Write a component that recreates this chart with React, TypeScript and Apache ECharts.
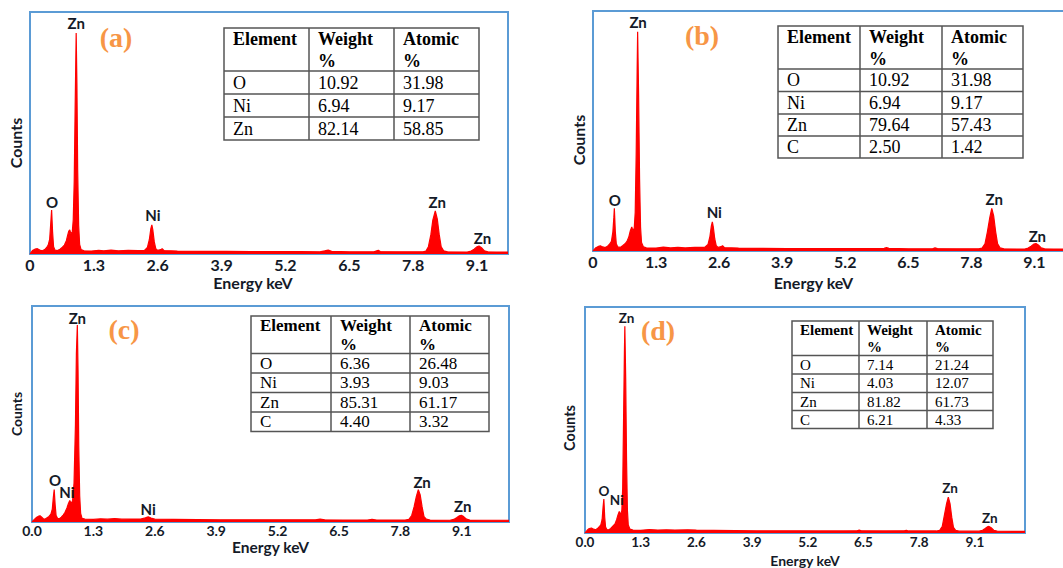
import React, { useEffect, useRef } from "react";
import * as echarts from "echarts";

// ---------- DATA ----------
const TICKS_AB = ["0", "1.3", "2.6", "3.9", "5.2", "6.5", "7.8", "9.1"];
const TICKS_CD = ["0.0", "1.3", "2.6", "3.9", "5.2", "6.5", "7.8", "9.1"];

const HEADERS = ["Element", "Weight\n%", "Atomic\n%"];

const tableA = [
  ["O", "10.92", "31.98"],
  ["Ni", "6.94", "9.17"],
  ["Zn", "82.14", "58.85"],
];
const tableB = [
  ["O", "10.92", "31.98"],
  ["Ni", "6.94", "9.17"],
  ["Zn", "79.64", "57.43"],
  ["C", "2.50", "1.42"],
];
const tableC = [
  ["O", "6.36", "26.48"],
  ["Ni", "3.93", "9.03"],
  ["Zn", "85.31", "61.17"],
  ["C", "4.40", "3.32"],
];
const tableD = [
  ["O", "7.14", "21.24"],
  ["Ni", "4.03", "12.07"],
  ["Zn", "81.82", "61.73"],
  ["C", "6.21", "4.33"],
];

// spectra: [energy keV, counts (relative)]
const specA = [
  [0, 0], [0.05, 1.4], [0.1, 2], [0.15, 2.2], [0.2, 1.6], [0.25, 1.3], [0.3, 1.8], [0.34, 2.7], [0.37, 3.7],
  [0.4, 6], [0.42, 12], [0.44, 18.2], [0.46, 9], [0.48, 3], [0.51, 1.6], [0.56, 1.4], [0.61, 2], [0.66, 2.8],
  [0.7, 3.7], [0.74, 5.5], [0.77, 8], [0.79, 9.5], [0.81, 10], [0.83, 8.5], [0.86, 9], [0.88, 14], [0.9, 30],
  [0.92, 62], [0.94, 91.3], [0.955, 70], [0.97, 35], [0.99, 12], [1.01, 4], [1.04, 1.8], [1.1, 1.3], [1.25, 1.2],
  [1.4, 1.5], [1.5, 1.3], [1.65, 1.6], [1.8, 1.3], [2.0, 1.5], [2.2, 1.4], [2.33, 1.5], [2.39, 2.7], [2.43, 6],
  [2.46, 10.5], [2.48, 12], [2.5, 10], [2.53, 5], [2.56, 2.2], [2.6, 1.5], [2.66, 1.8], [2.69, 2.2], [2.73, 1.4],
  [3.0, 1.2], [3.5, 1.1], [4.0, 1.1], [4.5, 1], [5.0, 1], [5.5, 1], [5.9, 0.9], [6.0, 1.3], [6.07, 1.6],
  [6.14, 1.1], [6.5, 0.9], [7.0, 0.9], [7.06, 1.3], [7.09, 1.5], [7.13, 1], [7.5, 0.9], [8.0, 0.9], [8.06, 1.2],
  [8.11, 3], [8.16, 8], [8.2, 14], [8.25, 17.8], [8.29, 14.5], [8.33, 8], [8.37, 3], [8.42, 1.3], [8.5, 0.9],
  [8.9, 0.8], [8.98, 1.2], [9.04, 2], [9.1, 3], [9.14, 3.3], [9.19, 2.6], [9.25, 1.3], [9.32, 0.9], [9.5, 0.8],
  [9.73, 0.8],
];
const specB = [
  [0, 0], [0.05, 1.2], [0.1, 1.8], [0.15, 2.2], [0.2, 1.7], [0.25, 1.4], [0.3, 2], [0.34, 2.8], [0.38, 4],
  [0.41, 8], [0.43, 14], [0.44, 17.8], [0.46, 8], [0.48, 3], [0.51, 1.7], [0.56, 1.5], [0.61, 2.2], [0.66, 3],
  [0.7, 4], [0.74, 6], [0.77, 8.5], [0.8, 10], [0.82, 8.5], [0.85, 9.5], [0.87, 16], [0.89, 40], [0.91, 75],
  [0.92, 91.4], [0.94, 65], [0.96, 30], [0.98, 10], [1.0, 3.5], [1.04, 1.7], [1.1, 1.3], [1.3, 1.2], [1.45, 1.6],
  [1.6, 1.3], [1.75, 1.5], [1.9, 1.3], [2.1, 1.5], [2.3, 1.5], [2.37, 2.7], [2.41, 6], [2.44, 10.5], [2.46, 12.1],
  [2.48, 10], [2.51, 5], [2.54, 2.2], [2.58, 1.5], [2.64, 1.8], [2.67, 2.2], [2.71, 1.4], [3.0, 1.2], [3.5, 1.1],
  [4.0, 1], [4.5, 1], [5.0, 1], [5.5, 1], [6.0, 1.1], [6.05, 1.4], [6.1, 1.1], [6.5, 0.9], [7.0, 0.9],
  [7.05, 1.3], [7.1, 1], [7.5, 0.9], [7.95, 0.9], [8.02, 1.2], [8.08, 3], [8.13, 8], [8.18, 14], [8.22, 17.8],
  [8.26, 14.5], [8.3, 8], [8.34, 3], [8.39, 1.3], [8.47, 0.9], [8.9, 0.8], [8.97, 1.2], [9.03, 2], [9.09, 2.9],
  [9.13, 3.1], [9.18, 2.5], [9.24, 1.3], [9.31, 0.9], [9.5, 0.8], [9.75, 0.8],
];
const specC = [
  [0, 0], [0.05, 1.2], [0.1, 2.2], [0.14, 2.7], [0.17, 2.9], [0.2, 2.3], [0.24, 1.5], [0.28, 1.4], [0.32, 2],
  [0.36, 2.6], [0.4, 3.6], [0.43, 6], [0.45, 11], [0.47, 15], [0.49, 8], [0.51, 3], [0.54, 1.7], [0.58, 1.5],
  [0.62, 2.2], [0.66, 3.2], [0.7, 4.5], [0.74, 6.5], [0.77, 8.5], [0.8, 10], [0.83, 8.5], [0.86, 10], [0.89, 18],
  [0.92, 45], [0.94, 78], [0.96, 91.2], [0.975, 70], [0.99, 35], [1.01, 12], [1.03, 4], [1.06, 1.7], [1.12, 1.3],
  [1.3, 1.2], [1.45, 1.5], [1.6, 1.3], [1.75, 1.6], [1.9, 1.3], [2.1, 1.4], [2.3, 1.4], [2.4, 1.9], [2.46, 2.4],
  [2.52, 1.8], [2.6, 1.3], [3.0, 1.2], [3.5, 1.1], [4.0, 1], [4.5, 1], [5.0, 1], [5.5, 1], [6.0, 1],
  [6.1, 1.3], [6.2, 1], [6.6, 0.9], [7.1, 0.9], [7.2, 1.2], [7.3, 0.9], [7.9, 0.9], [7.98, 1.2], [8.04, 3],
  [8.09, 7], [8.14, 12], [8.18, 15], [8.22, 12.5], [8.26, 7], [8.3, 2.5], [8.35, 1.3], [8.43, 0.9], [8.85, 0.8],
  [8.93, 1.2], [8.99, 2], [9.05, 2.9], [9.09, 3.1], [9.14, 2.5], [9.2, 1.3], [9.27, 0.9], [9.6, 0.8], [10.1, 0.8],
];
const specD = [
  [0, 0], [0.05, 1.2], [0.1, 2], [0.15, 2.2], [0.2, 1.7], [0.25, 1.4], [0.3, 2.1], [0.34, 2.9], [0.37, 3.6],
  [0.4, 6], [0.42, 11], [0.44, 15], [0.46, 7], [0.48, 2.6], [0.51, 1.5], [0.56, 1.4], [0.6, 2], [0.65, 3],
  [0.7, 4], [0.74, 6], [0.77, 8], [0.8, 9.5], [0.83, 8], [0.86, 10], [0.88, 20], [0.9, 50], [0.92, 80],
  [0.93, 91.5], [0.95, 68], [0.97, 32], [0.99, 10], [1.01, 3.5], [1.05, 1.7], [1.12, 1.3], [1.3, 1.2], [1.5, 1.5],
  [1.7, 1.3], [1.9, 1.4], [2.1, 1.3], [2.4, 1.4], [2.6, 1.3], [3.0, 1.2], [3.5, 1.1], [4.0, 1], [4.5, 1],
  [5.0, 1], [5.5, 0.9], [6.0, 0.9], [6.35, 1], [6.4, 1.3], [6.45, 1], [7.0, 0.9], [7.45, 1], [7.5, 1.2],
  [7.55, 0.9], [8.2, 0.9], [8.28, 1.2], [8.34, 3], [8.39, 8], [8.44, 13], [8.48, 15.9], [8.52, 13], [8.56, 7],
  [8.6, 2.5], [8.65, 1.2], [8.73, 0.8], [9.2, 0.8], [9.28, 1.2], [9.34, 2], [9.39, 2.7], [9.43, 2.9], [9.48, 2.3],
  [9.54, 1.2], [9.62, 0.8], [10.0, 0.7], [10.27, 0.7],
];

// peak labels: [energy, counts, element]
const peaksA = [[0.94, 95.5, "Zn"], [0.45, 21.5, "O"], [2.5, 16.1, "Ni"], [8.29, 21.5, "Zn"], [9.21, 6.6, "Zn"]];
const peaksB = [[0.93, 95.3, "Zn"], [0.45, 21.3, "O"], [2.5, 16.4, "Ni"], [8.27, 21.7, "Zn"], [9.16, 6.4, "Zn"]];
const peaksC = [[0.96, 94.3, "Zn"], [0.49, 19.4, "O"], [0.74, 14, "Ni"], [2.46, 6, "Ni"], [8.26, 18.7, "Zn"], [9.12, 7.4, "Zn"]];
const peaksD = [[0.97, 95, "Zn"], [0.44, 18.6, "O"], [0.74, 14.6, "Ni"], [8.52, 19.8, "Zn"], [9.45, 6.5, "Zn"]];

// ---------- LAYOUT ----------
const LABEL_COLOR = "#141a28";
const FRAME = "#5B9BD5";
const RED = "#FF0000";
const ORANGE = "#F79646";
const SANS = "Lato";
const SERIF = "Liberation Serif";

const panels = [
  {
    letter: "(a)", letterPos: [116, 37], spec: specA, peaks: peaksA, ticks: TICKS_AB, table: tableA,
    grid: { left: 30, top: 12, width: 478, height: 242 }, xMax: 9.73,
    tickFont: 16, tickMargin: 2, nameFont: 16, nameGap: 20, namePad: [0, 32, 0, 0],
    countsFont: 16, countsGap: 7, countsPad: [0, 20, 0, 0], peakFont: 15,
    tbl: { cols: [224, 309, 394, 479], rows: [28, 71, 94, 117, 140], font: 18, lh: 22, pad: 9 },
  },
  {
    letter: "(b)", letterPos: [702, 35], spec: specB, peaks: peaksB, ticks: TICKS_AB, table: tableB,
    grid: { left: 593, top: 11, width: 473, height: 240 }, xMax: 9.75,
    tickFont: 16, tickMargin: 2, nameFont: 16, nameGap: 23, namePad: [0, 32, 0, 0],
    countsFont: 16, countsGap: 7, countsPad: [0, 18, 0, 0], peakFont: 15,
    tbl: { cols: [778, 860, 942, 1023], rows: [26, 69, 91.5, 114, 136, 158], font: 18, lh: 22, pad: 9 },
  },
  {
    letter: "(c)", letterPos: [124, 329], spec: specC, peaks: peaksC, ticks: TICKS_CD, table: tableC,
    grid: { left: 32, top: 306, width: 477, height: 216 }, xMax: 10.1,
    tickFont: 14, tickMargin: 1, nameFont: 15.5, nameGap: 17, namePad: [0, 0, 0, 0],
    countsFont: 14, countsGap: 9, countsPad: [0, 0, 0, 0], peakFont: 15,
    tbl: { cols: [251, 331, 410, 489], rows: [316, 353.5, 373, 392.5, 412, 431.5], font: 17, lh: 19, pad: 9 },
  },
  {
    letter: "(d)", letterPos: [658, 330], spec: specD, peaks: peaksD, ticks: TICKS_CD, table: tableD,
    grid: { left: 585, top: 307, width: 440, height: 226 }, xMax: 10.27,
    tickFont: 13.5, tickMargin: 2, nameFont: 14, nameGap: 20, namePad: [0, 0, 0, 0],
    countsFont: 14.5, countsGap: 8, countsPad: [0, 16, 0, 0], peakFont: 13.5,
    tbl: { cols: [792, 859, 927, 993], rows: [321, 355.5, 374, 392.5, 410.5, 428.5], font: 15, lh: 17, pad: 8 },
  },
];

function tableGraphics(rows: string[][], t: any) {
  const els: any[] = [];
  const { cols, rows: ys, font, lh, pad } = t;
  const x0 = cols[0], x1 = cols[cols.length - 1];
  const y0 = ys[0], y1 = ys[ys.length - 1];
  els.push({
    type: "rect", shape: { x: x0, y: y0, width: x1 - x0, height: y1 - y0 },
    style: { fill: "#fff", stroke: "#555", lineWidth: 1.5 }, z: 10,
  });
  for (let i = 1; i < cols.length - 1; i++) {
    els.push({ type: "line", shape: { x1: cols[i], y1: y0, x2: cols[i], y2: y1 }, style: { stroke: "#555", lineWidth: 1.5 }, z: 11 });
  }
  for (let i = 1; i < ys.length - 1; i++) {
    els.push({ type: "line", shape: { x1: x0, y1: ys[i], x2: x1, y2: ys[i] }, style: { stroke: "#555", lineWidth: 1.5 }, z: 11 });
  }
  HEADERS.forEach((h, j) => {
    els.push({
      type: "text", x: cols[j] + pad, y: y0, z: 12,
      style: { text: h, fill: "#000", fontFamily: SERIF, fontWeight: "bold", fontSize: font, lineHeight: lh, align: "left", verticalAlign: "top" },
    });
  });
  rows.forEach((r, i) => {
    r.forEach((c, j) => {
      els.push({
        type: "text", x: cols[j] + pad, y: (ys[i + 1] + ys[i + 2]) / 2, z: 12,
        style: { text: c, fill: "#000", fontFamily: SERIF, fontSize: font, align: "left", verticalAlign: "middle" },
      });
    });
  });
  return els;
}

function buildOption() {
  const grid: any[] = [], xAxis: any[] = [], yAxis: any[] = [], series: any[] = [], graphic: any[] = [];
  panels.forEach((p, i) => {
    grid.push({ ...p.grid, show: true, borderColor: FRAME, borderWidth: 2, backgroundColor: "transparent", outerBoundsMode: "none", containLabel: false });
    const ticks = p.ticks;
    xAxis.push({
      gridIndex: i, type: "value", min: 0, max: p.xMax, interval: 1.3,
      axisLine: { show: false }, axisTick: { show: false }, splitLine: { show: false },
      axisLabel: {
        margin: p.tickMargin, fontFamily: SANS, fontWeight: "bold", fontSize: p.tickFont, color: LABEL_COLOR,
        formatter: (v: number) => {
          const k = Math.round(v / 1.3);
          return Math.abs(v - k * 1.3) < 1e-6 && k < ticks.length ? ticks[k] : "";
        },
      },
      name: "Energy keV", nameLocation: "middle", nameGap: p.nameGap, nameMoveOverlap: false,
      nameTextStyle: { fontFamily: SANS, fontWeight: "bold", fontSize: p.nameFont, color: LABEL_COLOR, padding: p.namePad },
    });
    yAxis.push({
      gridIndex: i, type: "value", min: 0, max: 100,
      axisLine: { show: false }, axisTick: { show: false }, splitLine: { show: false }, axisLabel: { show: false },
      name: "Counts", nameLocation: "middle", nameRotate: 90, nameGap: p.countsGap, nameMoveOverlap: false,
      nameTextStyle: { fontFamily: SANS, fontWeight: "bold", fontSize: p.countsFont, color: LABEL_COLOR, padding: p.countsPad },
    });
    series.push({
      type: "line", xAxisIndex: i, yAxisIndex: i, data: p.spec, symbol: "none", showSymbol: false, silent: true,
      lineStyle: { color: RED, width: 1.2 }, itemStyle: { color: RED }, areaStyle: { color: RED, opacity: 1 }, z: 2,
    });
    series.push({
      type: "scatter", xAxisIndex: i, yAxisIndex: i, silent: true, symbolSize: 1, itemStyle: { color: "transparent" },
      data: p.peaks.map((q: any) => ({ value: [q[0], q[1]], name: q[2] })),
      label: {
        show: true, position: "inside", formatter: "{b}", fontFamily: SANS, fontWeight: "bold", fontSize: p.peakFont,
        color: LABEL_COLOR, opacity: 1, textBorderWidth: 0, textBorderColor: "transparent",
      },
      z: 5,
    });
    graphic.push({
      type: "text", x: p.letterPos[0], y: p.letterPos[1], z: 12,
      style: { text: p.letter, fill: ORANGE, fontFamily: SERIF, fontWeight: "bold", fontSize: 28, align: "center", verticalAlign: "middle" },
    });
    tableGraphics(p.table, p.tbl).forEach((e) => graphic.push(e));
  });
  return { animation: false, backgroundColor: "#fff", grid, xAxis, yAxis, series, graphic };
}

export default function App() {
  const ref = useRef<HTMLDivElement>(null);
  useEffect(() => {
    if (!ref.current) return;
    const chart = echarts.init(ref.current, null, { renderer: "svg" });
    chart.setOption(buildOption() as any);
    return () => chart.dispose();
  }, []);
  return <div ref={ref} style={{ position: "fixed", left: 0, top: 0, width: 1063, height: 568, background: "#fff" }} />;
}
